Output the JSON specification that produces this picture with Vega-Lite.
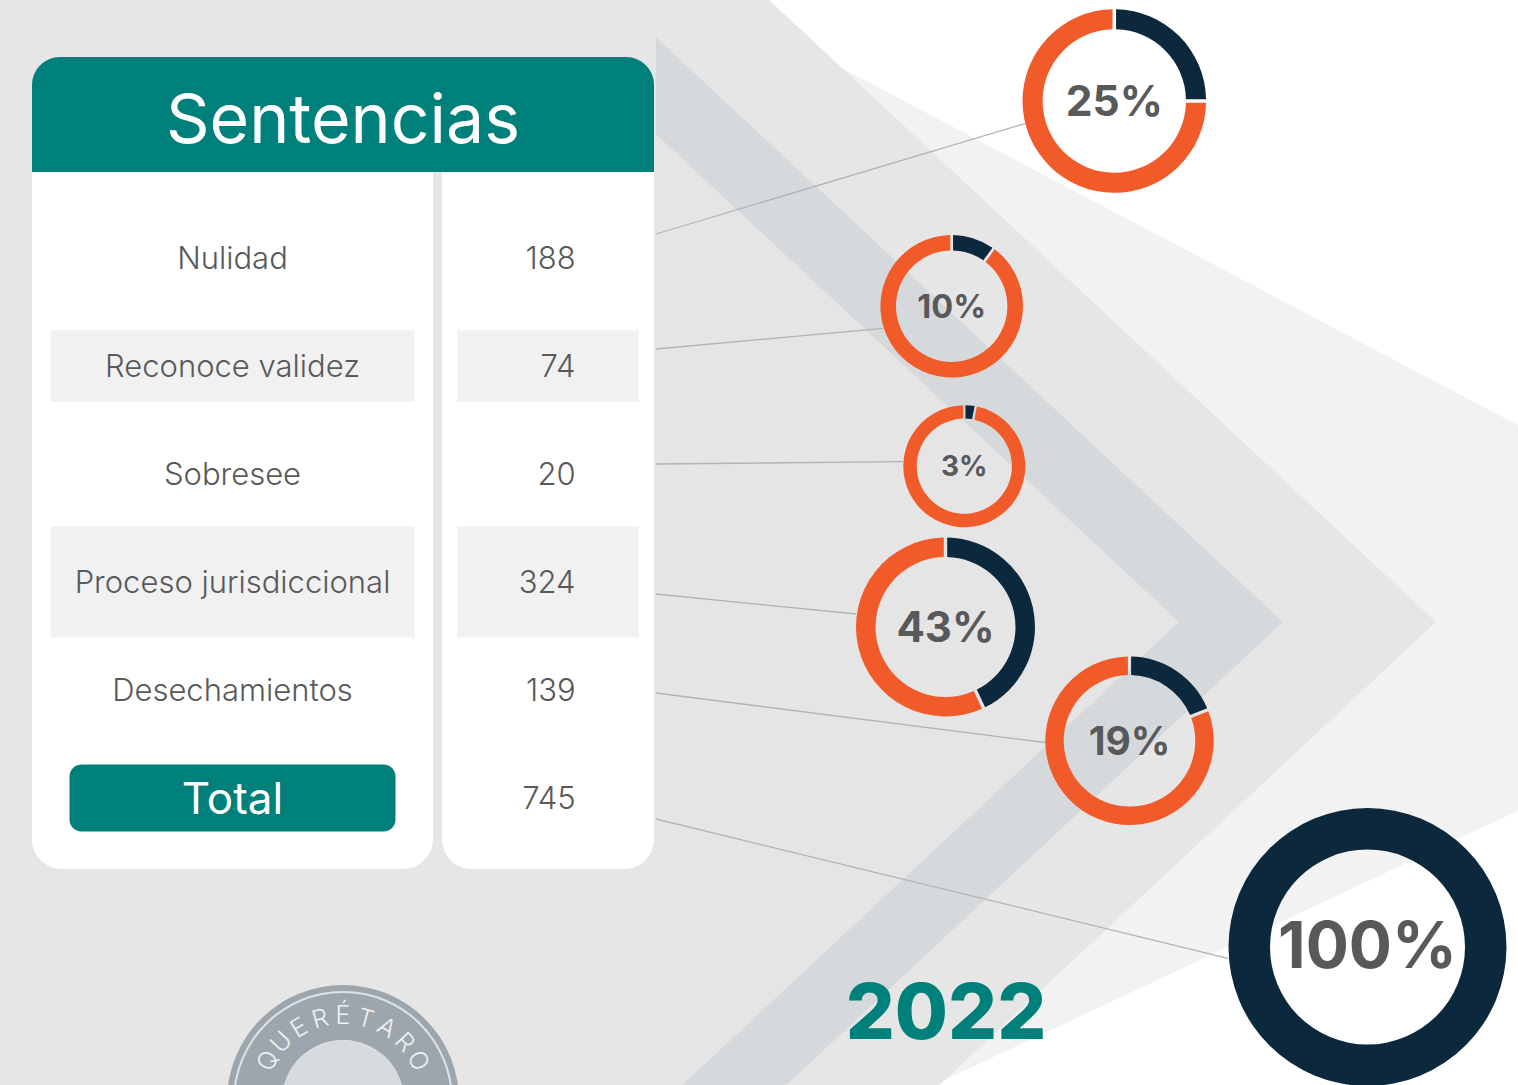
{
  "$schema": "https://vega.github.io/schema/vega-lite/v6.json",
  "background": "#e6e6e6",
  "padding": {"left": 32, "top": 0, "right": 0, "bottom": 0},
  "spacing": 1,
  "config": {"view": {"stroke": null}, "font": "Inter"},
  "datasets": {
    "tabla": [
      {"categoria": "Nulidad", "cantidad": 188, "porcentaje": 0.25},
      {"categoria": "Reconoce validez", "cantidad": 74, "porcentaje": 0.10},
      {"categoria": "Sobresee", "cantidad": 20, "porcentaje": 0.03},
      {"categoria": "Proceso jurisdiccional", "cantidad": 324, "porcentaje": 0.43},
      {"categoria": "Desechamientos", "cantidad": 139, "porcentaje": 0.19},
      {"categoria": "Total", "cantidad": 745, "porcentaje": 1.0}
    ],
    "aros": [
      {"categoria": "Nulidad", "tramo": "Porcentaje", "proporcion": 0.25},
      {"categoria": "Nulidad", "tramo": "Resto", "proporcion": 0.75},
      {"categoria": "Reconoce validez", "tramo": "Porcentaje", "proporcion": 0.10},
      {"categoria": "Reconoce validez", "tramo": "Resto", "proporcion": 0.90},
      {"categoria": "Sobresee", "tramo": "Porcentaje", "proporcion": 0.03},
      {"categoria": "Sobresee", "tramo": "Resto", "proporcion": 0.97},
      {"categoria": "Proceso jurisdiccional", "tramo": "Porcentaje", "proporcion": 0.43},
      {"categoria": "Proceso jurisdiccional", "tramo": "Resto", "proporcion": 0.57},
      {"categoria": "Desechamientos", "tramo": "Porcentaje", "proporcion": 0.19},
      {"categoria": "Desechamientos", "tramo": "Resto", "proporcion": 0.81},
      {"categoria": "Total", "tramo": "Porcentaje", "proporcion": 1.0}
    ],
    "sello": [
      {"letra": "Q", "i": 0}, {"letra": "U", "i": 1}, {"letra": "E", "i": 2},
      {"letra": "R", "i": 3}, {"letra": "É", "i": 4}, {"letra": "T", "i": 5},
      {"letra": "A", "i": 6}, {"letra": "R", "i": 7}, {"letra": "O", "i": 8}
    ]
  },
  "hconcat": [
    {
      "spacing": 0,
      "vconcat": [
        {"width": 622, "height": 57, "data": {"values": []}, "mark": "rect", "encoding": {}},
        {
          "width": 622, "height": 115,
          "data": {"values": [{"titulo": "Sentencias"}]},
          "layer": [
            {"mark": {"type": "rect", "color": "#00807a", "cornerRadiusTopLeft": 28, "cornerRadiusTopRight": 28}, "encoding": {}},
            {"mark": {"type": "text", "color": "#ffffff", "fontSize": 68, "font": "Inter", "fontWeight": 400, "baseline": "alphabetic", "dy": 28}, "encoding": {"text": {"field": "titulo"}}}
          ]
        },
        {
          "spacing": 9,
          "hconcat": [
            {
              "width": 401, "height": 697,
              "data": {"name": "tabla"},
              "layer": [
                {"data": {"values": [{"tarjeta": "conceptos"}]}, "mark": {"type": "rect", "color": "#ffffff", "cornerRadiusBottomLeft": 30, "cornerRadiusBottomRight": 30}, "encoding": {}},
                {
                  "transform": [{"filter": {"field": "categoria", "equal": "Reconoce validez"}}],
                  "mark": {"type": "rect", "color": "#f1f1f1", "height": {"band": 0.66}},
                  "encoding": {
                    "x": {"datum": "Concepto", "type": "nominal", "axis": null, "scale": {"type": "band", "domain": ["Concepto"], "range": [0, 401], "paddingInner": 0, "paddingOuter": 0.0508}},
                    "y": {"field": "categoria", "type": "nominal", "scale": {"type": "band", "domain": ["Nulidad", "Reconoce validez", "Sobresee", "Proceso jurisdiccional", "Desechamientos", "Total"], "range": [32, 680], "paddingInner": 0, "paddingOuter": 0}, "axis": null}
                  }
                },
                {
                  "transform": [{"filter": {"field": "categoria", "equal": "Proceso jurisdiccional"}}],
                  "mark": {"type": "rect", "color": "#f1f1f1", "height": {"band": 1.03}},
                  "encoding": {
                    "x": {"datum": "Concepto", "type": "nominal", "axis": null},
                    "y": {"field": "categoria", "type": "nominal", "axis": null}
                  }
                },
                {
                  "transform": [{"filter": {"field": "categoria", "equal": "Total"}}],
                  "mark": {"type": "rect", "color": "#00807a", "cornerRadius": 12, "height": {"band": 0.62}, "width": {"band": 0.8956}},
                  "encoding": {
                    "x": {"datum": "Concepto", "type": "nominal", "axis": null},
                    "y": {"field": "categoria", "type": "nominal", "axis": null}
                  }
                },
                {
                  "transform": [{"filter": "datum.categoria !== 'Total'"}],
                  "mark": {"type": "text", "font": "Inter", "fontWeight": 300, "fontSize": 31, "color": "#58595b", "baseline": "alphabetic", "dy": 11},
                  "encoding": {"y": {"field": "categoria", "type": "nominal", "axis": null}, "text": {"field": "categoria"}}
                },
                {
                  "transform": [{"filter": {"field": "categoria", "equal": "Total"}}],
                  "mark": {"type": "text", "font": "Inter", "fontWeight": 400, "fontSize": 44, "color": "#ffffff", "baseline": "alphabetic", "dy": 16},
                  "encoding": {"y": {"field": "categoria", "type": "nominal", "axis": null}, "text": {"field": "categoria"}}
                }
              ]
            },
            {
              "width": 212, "height": 697,
              "data": {"name": "tabla"},
              "layer": [
                {"data": {"values": [{"tarjeta": "cantidades"}]}, "mark": {"type": "rect", "color": "#ffffff", "cornerRadiusBottomLeft": 30, "cornerRadiusBottomRight": 30}, "encoding": {}},
                {
                  "transform": [{"filter": {"field": "categoria", "equal": "Reconoce validez"}}],
                  "mark": {"type": "rect", "color": "#f1f1f1", "height": {"band": 0.66}},
                  "encoding": {
                    "x": {"datum": "Cantidad", "type": "nominal", "axis": null, "scale": {"type": "band", "domain": ["Cantidad"], "range": [0, 212], "paddingInner": 0, "paddingOuter": 0.0837}},
                    "y": {"field": "categoria", "type": "nominal", "scale": {"type": "band", "domain": ["Nulidad", "Reconoce validez", "Sobresee", "Proceso jurisdiccional", "Desechamientos", "Total"], "range": [32, 680], "paddingInner": 0, "paddingOuter": 0}, "axis": null}
                  }
                },
                {
                  "transform": [{"filter": {"field": "categoria", "equal": "Proceso jurisdiccional"}}],
                  "mark": {"type": "rect", "color": "#f1f1f1", "height": {"band": 1.03}},
                  "encoding": {
                    "x": {"datum": "Cantidad", "type": "nominal", "axis": null},
                    "y": {"field": "categoria", "type": "nominal", "axis": null}
                  }
                },
                {
                  "mark": {"type": "text", "font": "Inter", "fontWeight": 300, "fontSize": 31, "color": "#58595b", "align": "right", "baseline": "alphabetic", "dx": 27.6, "dy": 11},
                  "encoding": {"y": {"field": "categoria", "type": "nominal", "axis": null}, "text": {"field": "cantidad", "type": "quantitative", "format": "d"}}
                }
              ]
            }
          ]
        },
        {
          "width": 622, "height": 216,
          "layer": [
            {"data": {"values": [{"anillo": "exterior"}]}, "mark": {"type": "arc", "radius": 116, "radius2": 61, "theta": 0, "theta2": 6.2832, "color": "#9da6ac", "yOffset": 124, "clip": true}, "encoding": {}},
            {"data": {"values": [{"anillo": "interior"}]}, "mark": {"type": "arc", "radius": 61, "theta": 0, "theta2": 6.2832, "color": "#d7dbde", "yOffset": 124, "clip": true}, "encoding": {}},
            {"data": {"values": [{"anillo": "filete"}]}, "mark": {"type": "arc", "radius": 110, "radius2": 108, "theta": 0, "theta2": 6.2832, "color": "#dfe2e5", "yOffset": 124, "clip": true}, "encoding": {}},
            {
              "data": {"name": "sello"},
              "mark": {"type": "text", "radius": 85, "yOffset": 124, "color": "#eef0f2", "fontSize": 25, "fontWeight": 300, "font": "Inter", "baseline": "middle", "clip": true},
              "encoding": {
                "text": {"field": "letra"},
                "theta": {"field": "i", "type": "quantitative", "stack": null, "scale": {"domain": [0, 8], "range": [-1.08, 1.08], "zero": false, "nice": false}},
                "angle": {"field": "i", "type": "quantitative", "scale": {"domain": [0, 8], "range": [-62, 62], "zero": false, "nice": false}, "legend": null}
              }
            }
          ]
        }
      ]
    },
    {
      "width": 863, "height": 1085,
      "layer": [
        {
          "data": {"values": [{"capa": "fondo"}]},
          "mark": {"type": "rect", "color": "#f2f2f2"},
          "encoding": {}
        },
        {
          "data": {"values": [{"capa": "claro superior"}]},
          "mark": {"type": "rect", "color": {"gradient": "linear", "x1": 0.5, "y1": 0.183, "x2": 0.542, "y2": 0.083, "stops": [{"offset": 0, "color": "rgba(255,255,255,0)"}, {"offset": 0.01, "color": "#ffffff"}, {"offset": 1, "color": "#ffffff"}]}},
          "encoding": {}
        },
        {
          "data": {"values": [{"capa": "claro inferior"}]},
          "mark": {"type": "rect", "color": {"gradient": "linear", "x1": 0.66, "y1": 0.8733, "x2": 0.6854, "y2": 0.9413, "stops": [{"offset": 0, "color": "rgba(255,255,255,0)"}, {"offset": 0.01, "color": "#ffffff"}, {"offset": 1, "color": "#ffffff"}]}},
          "encoding": {}
        },
        {
          "data": {"values": [{"capa": "chevrón exterior"}]},
          "mark": {"type": "arc", "radius": 2200, "theta": 3.962, "theta2": 5.463, "color": "#e6e6e6", "xOffset": 348.5, "yOffset": 79.5, "clip": true},
          "encoding": {}
        },
        {
          "data": {"values": [{"capa": "chevrón oscuro"}]},
          "mark": {"type": "arc", "radius": 2200, "theta": 3.962, "theta2": 5.463, "color": "#d6d9dc", "xOffset": 195.5, "yOffset": 79.5, "clip": true},
          "encoding": {}
        },
        {
          "data": {"values": [{"capa": "chevrón interior"}]},
          "mark": {"type": "arc", "radius": 2200, "theta": 3.962, "theta2": 5.463, "color": "#e5e5e5", "xOffset": 91.5, "yOffset": 79.5, "clip": true},
          "encoding": {}
        },
        {
          "data": {"name": "tabla"},
          "mark": {"type": "rule", "color": "#b3b3b3", "strokeWidth": 1.3},
          "encoding": {
            "x": {"field": "cantidad", "type": "quantitative", "axis": null, "scale": {"type": "linear", "zero": false, "nice": false, "domain": [0.03, 0.1, 0.19, 0.25, 0.43, 1, 20, 74, 139, 188, 324, 745], "range": [247, 227, 389, 370, 200, 572, 0, 0, 0, 0, 0, 0]}},
            "x2": {"field": "porcentaje"},
            "y": {"field": "cantidad", "type": "quantitative", "axis": null, "scale": {"type": "linear", "zero": false, "nice": false, "domain": [0.03, 0.1, 0.19, 0.25, 0.43, 1, 20, 74, 139, 188, 324, 745], "range": [461.7, 328.3, 742.5, 123.3, 614, 958.3, 464, 349, 693, 234, 594, 819]}},
            "y2": {"field": "porcentaje"}
          }
        },
        {
          "layer": [
            {
              "data": {"name": "aros"},
              "transform": [
                {"lookup": "categoria", "from": {"data": {"name": "tabla"}, "key": "categoria", "fields": ["cantidad", "porcentaje"]}},
                {"stack": "proporcion", "groupby": ["categoria"], "sort": [{"field": "tramo", "order": "ascending"}], "as": ["t0", "t1"]}
              ],
              "mark": {"type": "arc", "padAngle": 0.03, "clip": true},
              "encoding": {
                "x": {"field": "porcentaje", "type": "quantitative", "axis": null, "scale": {"type": "linear", "zero": false, "nice": false, "domain": [0.03, 0.1, 0.19, 0.25, 0.43, 1], "range": [308.3, 295.7, 473.5, 458.3, 289.5, 711.5]}},
                "y": {"field": "porcentaje", "type": "quantitative", "axis": null, "scale": {"type": "linear", "zero": false, "nice": false, "domain": [0.03, 0.1, 0.19, 0.25, 0.43, 1], "range": [466.2, 306.2, 740.8, 101, 627, 947]}},
                "theta": {"field": "t0", "type": "quantitative", "stack": null, "scale": {"domain": [0, 1], "range": [0, 6.283185307179586], "zero": false, "nice": false}},
                "theta2": {"field": "t1"},
                "radius": {"field": "cantidad", "type": "quantitative", "scale": {"type": "linear", "zero": false, "nice": false, "domain": [0.03, 0.1, 0.19, 0.25, 0.43, 1, 20, 74, 139, 188, 324, 745], "range": [47.6, 55.7, 65.8, 71.7, 70, 97.5, 61, 71.3, 84.2, 91.8, 89.5, 139]}},
                "radius2": {"field": "porcentaje"},
                "color": {"field": "tramo", "type": "nominal", "scale": {"domain": ["Porcentaje", "Resto"], "range": ["#0c283d", "#f15a29"]}, "legend": null}
              }
            },
            {
              "data": {"name": "tabla"},
              "mark": {"type": "text", "font": "Inter", "fontWeight": 700, "color": "#58595b", "baseline": "middle", "dy": 2},
              "encoding": {
                "x": {"field": "porcentaje", "type": "quantitative", "axis": null},
                "y": {"field": "porcentaje", "type": "quantitative", "axis": null},
                "text": {"field": "porcentaje", "type": "quantitative", "format": ".0%"},
                "size": {"field": "porcentaje", "type": "quantitative", "legend": null, "scale": {"type": "linear", "zero": false, "nice": false, "domain": [0.03, 0.1, 0.19, 0.25, 0.43, 1], "range": [28, 32.5, 39, 42.5, 42, 64]}}
              }
            }
          ]
        },
        {
          "data": {"values": [{"anio": "2022"}]},
          "mark": {"type": "text", "color": "#00807a", "fontSize": 77, "fontWeight": 800, "font": "Inter", "align": "center", "baseline": "alphabetic", "dx": -141.5, "dy": 496.8},
          "encoding": {"text": {"field": "anio"}}
        }
      ],
      "resolve": {"scale": {"x": "independent", "y": "independent"}}
    }
  ]
}
